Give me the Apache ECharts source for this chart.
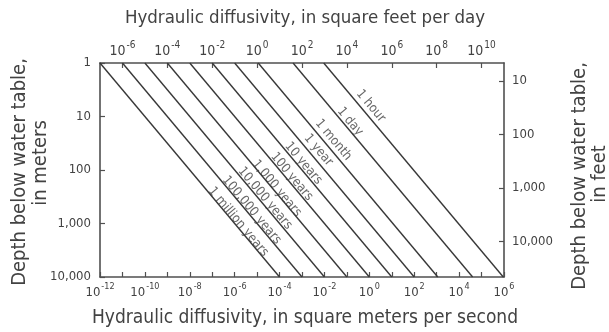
<!DOCTYPE html>
<html>
<head>
<meta charset="utf-8">
<script src="https://cdn.jsdelivr.net/npm/echarts@6/dist/echarts.min.js"></script>
<style>
html,body{margin:0;padding:0;background:#fff;}
#chart{width:609px;height:332px;}
</style>
</head>
<body>
<div id="chart"></div>
<script>
// ---- data ----
var lineNames = ['1 hour','1 day','1 month','1 year','10 years','100 years','1,000 years','10,000 years','100,000 years','1 million years'];
// hydraulic diffusivity (m2/s) where each line meets depth = 1 m (top) and depth = 10,000 m (bottom)
var diffAtTop    = [9.3e-3, 4.0e-4, 1.12e-5, 1e-6, 1e-7, 1e-8, 1e-9, 1e-10, 1e-11, 1e-12];
var diffAtBottom = [9.3e5,  4.0e4,  1.12e3,  1e2,  1e1,  1e0,  1e-1, 1e-2,  1e-3,  1e-4];
var depthTop = 1, depthBottom = 10000;
// label anchor positions (diffusivity m2/s, depth m)
var labelDiff  = [1.16, 0.138, 0.0251, 0.00537, 0.00115, 3.47e-4, 7.41e-5, 2.24e-5, 5.75e-6, 1.45e-6];
var labelDepth = [6.37, 12.5, 27.5, 42.3, 75, 133, 220, 339, 562, 933];
// axes
var bottomRange = [1e-12, 1e6];          // m2/s
var bottomLabelExps = [-12,-10,-8,-6,-4,-2,0,2,4,6];
var topRange = [1e-7, 1e11];             // ft2/day
var topLabelExps = [-6,-4,-2,0,2,4,6,8,10];
var leftRange = [1, 10000];              // m
var leftTickLabels = ['1','10','100','1,000','10,000'];
var rightRange = [4.6, 46000];           // ft
var rightTickValues = [10, 100, 1000, 10000];
var rightTickLabels = ['10','100','1,000','10,000'];

var L = Math.log10;
var FONT = "'Liberation Sans Narrow','DejaVu Sans Condensed','Roboto',sans-serif";
var TXT = '#424242';
var AX = '#505050';

function makeRich(fs){
  return {
    b: {fontSize: fs, fontFamily: FONT, color: TXT, lineHeight: fs + 4, verticalAlign: 'bottom'},
    s: {fontSize: fs - 4, fontFamily: FONT, color: TXT, lineHeight: fs - 4, verticalAlign: 'top', padding: [0,0,0,1]}
  };
}
function powLabel(e){ return '{b|10}{s|' + e + '}'; }

var series = [];
lineNames.forEach(function(n, i){
  series.push({
    type: 'line', name: n, xAxisIndex: 0, yAxisIndex: 0,
    symbol: 'none', silent: true,
    lineStyle: {color: '#383838', width: 1.4},
    data: [[L(diffAtTop[i]), L(depthTop)], [L(diffAtBottom[i]), L(depthBottom)]]
  });
});
series.push({
  type: 'scatter', xAxisIndex: 0, yAxisIndex: 0, symbolSize: 0, silent: true,
  data: lineNames.map(function(n, i){ return {name: n, value: [L(labelDiff[i]), L(labelDepth[i])]}; }),
  label: {show: true, position: 'inside', rotate: -50, formatter: '{b}', color: TXT,
          fontFamily: FONT, fontSize: 13, align: 'center', verticalAlign: 'middle'}
});

var axisLine = {show: true, onZero: false, lineStyle: {color: AX, width: 1.6}};
var tick = {show: true, inside: true, length: 5, lineStyle: {color: AX, width: 1.2}};

var option = {
  animation: false,
  backgroundColor: '#fff',
  grid: {left: 100, right: 105, top: 63, bottom: 55, containLabel: false},
  xAxis: [
    {type: 'value', position: 'bottom', min: L(bottomRange[0]), max: L(bottomRange[1]), interval: 1,
     axisLine: axisLine, axisTick: tick, splitLine: {show: false},
     axisLabel: {margin: 5, rich: makeRich(13), formatter: function(v){
       var e = Math.round(v); return bottomLabelExps.indexOf(e) >= 0 ? powLabel(e) : ''; }}},
    {type: 'value', position: 'top', min: L(topRange[0]), max: L(topRange[1]),
     axisLine: axisLine, splitLine: {show: false},
     axisTick: {show: true, inside: true, length: 5, lineStyle: {color: AX, width: 1.2}, customValues: topLabelExps},
     axisLabel: {margin: 5, rich: makeRich(14), customValues: topLabelExps, formatter: function(v){ return powLabel(Math.round(v)); }}}
  ],
  yAxis: [
    {type: 'value', position: 'left', inverse: true, min: L(leftRange[0]), max: L(leftRange[1]), interval: 1,
     axisLine: axisLine, axisTick: tick, splitLine: {show: false},
     axisLabel: {margin: 9, color: TXT, fontFamily: FONT, fontSize: 13,
       formatter: function(v){ return leftTickLabels[Math.round(v)]; }}},
    {type: 'value', position: 'right', inverse: true, min: L(rightRange[0]), max: L(rightRange[1]),
     axisLine: axisLine, splitLine: {show: false},
     axisTick: {show: true, inside: true, length: 5, lineStyle: {color: AX, width: 1.2}, customValues: rightTickValues.map(L)},
     axisLabel: {margin: 8, color: TXT, fontFamily: FONT, fontSize: 13, customValues: rightTickValues.map(L),
       formatter: function(v){ var i = rightTickValues.indexOf(Math.round(Math.pow(10, v))); return i >= 0 ? rightTickLabels[i] : ''; }}}
  ],
  graphic: [
    {type: 'text', x: 305, y: 18, style: {text: 'Hydraulic diffusivity, in square feet per day', fill: TXT, font: '18.5px ' + FONT, textAlign: 'center', textVerticalAlign: 'middle'}},
    {type: 'text', x: 305, y: 318, style: {text: 'Hydraulic diffusivity, in square meters per second', fill: TXT, font: '19px ' + FONT, textAlign: 'center', textVerticalAlign: 'middle'}},
    {type: 'text', x: 20, y: 172, rotation: Math.PI/2, style: {text: 'Depth below water table,', fill: TXT, font: '20px ' + FONT, textAlign: 'center', textVerticalAlign: 'middle'}},
    {type: 'text', x: 41, y: 163, rotation: Math.PI/2, style: {text: 'in meters', fill: TXT, font: '20px ' + FONT, textAlign: 'center', textVerticalAlign: 'middle'}},
    {type: 'text', x: 580, y: 176, rotation: Math.PI/2, style: {text: 'Depth below water table,', fill: TXT, font: '20px ' + FONT, textAlign: 'center', textVerticalAlign: 'middle'}},
    {type: 'text', x: 600, y: 174, rotation: Math.PI/2, style: {text: 'in feet', fill: TXT, font: '20px ' + FONT, textAlign: 'center', textVerticalAlign: 'middle'}}
  ],
  series: series
};
var chart = echarts.init(document.getElementById('chart'), null, {renderer: 'canvas'});
chart.setOption(option);
</script>
</body>
</html>
